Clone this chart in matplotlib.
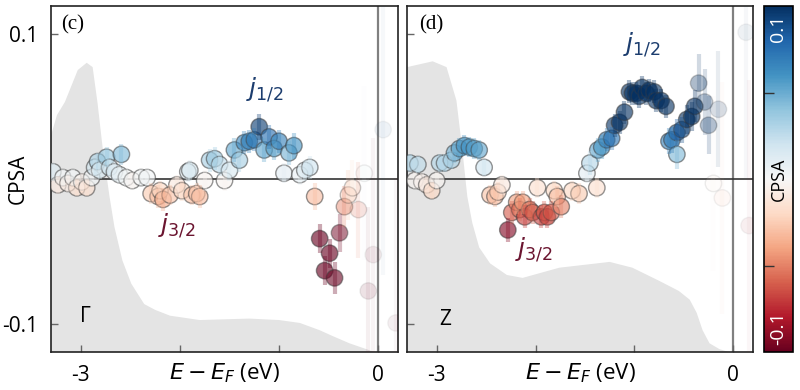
import numpy as np
import matplotlib
matplotlib.use("Agg")
import matplotlib.pyplot as plt
from matplotlib import colors

plt.rcParams['font.family'] = ['Open Sans', 'DejaVu Sans']
plt.rcParams['mathtext.fontset'] = 'dejavusans'

# ---- data: Gamma panel (c) ----
gamma_dos_e = [-3.30, -3.24, -3.16, -3.03, -2.94, -2.88, -2.83, -2.78, -2.71, -2.66, -2.58,
               -2.49, -2.36, -2.25, -2.10, -1.80, -1.30, -1.00, -0.79, -0.59, -0.46, -0.29,
               -0.12, 0.0, 0.20]
gamma_dos = [0.030, 0.044, 0.053, 0.075, 0.080, 0.077, 0.052, 0.022, -0.012, -0.033, -0.056,
             -0.072, -0.086, -0.090, -0.094, -0.097, -0.096, -0.097, -0.099, -0.104, -0.108,
             -0.113, -0.117, -0.120, -0.120]

gamma_e = [-3.28, -3.23, -3.18, -3.13, -3.08, -3.04, -2.99, -2.94, -2.89, -2.86,
           -2.83, -2.81, -2.74, -2.71, -2.66, -2.61, -2.59, -2.54, -2.48, -2.39,
           -2.33, -2.29, -2.22, -2.20, -2.17, -2.10, -2.03, -1.98, -1.92, -1.90,
           -1.88, -1.83, -1.80, -1.75, -1.70, -1.65, -1.60, -1.55, -1.50, -1.45,
           -1.40, -1.35, -1.30, -1.25, -1.20, -1.15, -1.10, -1.05, -1.00, -0.95,
           -0.90, -0.85, -0.79, -0.74, -0.69, -0.64, -0.59, -0.54, -0.49, -0.44,
           -0.39, -0.34, -0.30, -0.26, -0.20, -0.14, -0.10, -0.05, 0.05, 0.18]
gamma_c = [0.005, -0.004, 0.001, -0.003, 0.001, -0.006, -0.002, -0.006, 0.001, 0.008,
           0.012, 0.006, 0.015, 0.008, 0.005, 0.003, 0.017, 0.001, -0.001, 0.001,
           0.001, -0.010, -0.012, -0.008, -0.014, -0.011, -0.004, -0.008, 0.005, 0.006,
           -0.011, -0.010, -0.012, -0.001, 0.013, 0.014, 0.010, -0.001, 0.006, 0.020,
           0.013, 0.025, 0.026, 0.027, 0.036, 0.020, 0.029, 0.021, 0.026, 0.004,
           0.018, 0.023, 0.003, 0.006, 0.008, -0.012, -0.041, -0.063, -0.051, -0.068,
           -0.037, -0.019, -0.011, -0.006, -0.021, 0.004, -0.077, -0.052, 0.034, -0.099]
gamma_err = [0.006, 0.006, 0.006, 0.006, 0.006, 0.006, 0.006, 0.006, 0.006, 0.006,
             0.006, 0.006, 0.007, 0.006, 0.006, 0.006, 0.007, 0.006, 0.006, 0.006,
             0.006, 0.007, 0.008, 0.007, 0.008, 0.007, 0.007, 0.007, 0.007, 0.007,
             0.007, 0.007, 0.008, 0.007, 0.008, 0.008, 0.008, 0.007, 0.007, 0.008,
             0.008, 0.008, 0.008, 0.008, 0.009, 0.008, 0.008, 0.008, 0.008, 0.007,
             0.008, 0.009, 0.007, 0.007, 0.008, 0.009, 0.010, 0.010, 0.010, 0.011,
             0.013, 0.014, 0.017, 0.019, 0.033, 0.060, 0.058, 0.080, 0.100, 0.100]

# ---- data: Z panel (d) ----
z_dos_e = [-3.30, -3.04, -2.90, -2.80, -2.74, -2.69, -2.64, -2.57, -2.46, -2.29, -2.13,
           -1.76, -1.25, -1.02, -0.75, -0.55, -0.44, -0.37, -0.31, -0.24, -0.14, 0.0, 0.20]
z_dos = [0.077, 0.081, 0.077, 0.054, 0.020, -0.012, -0.030, -0.047, -0.058, -0.066, -0.068,
         -0.061, -0.057, -0.061, -0.070, -0.077, -0.083, -0.092, -0.104, -0.113, -0.117,
         -0.120, -0.120]

z_e = [-3.27, -3.22, -3.19, -3.15, -3.10, -3.05, -3.00, -2.97, -2.92, -2.85,
       -2.82, -2.77, -2.72, -2.67, -2.62, -2.57, -2.52, -2.46, -2.41, -2.38,
       -2.34, -2.28, -2.24, -2.19, -2.16, -2.13, -2.11, -2.06, -2.03, -1.98,
       -1.94, -1.91, -1.88, -1.84, -1.81, -1.78, -1.74, -1.63, -1.56, -1.48,
       -1.45, -1.38, -1.37, -1.33, -1.28, -1.23, -1.20, -1.15, -1.10, -1.05,
       -1.02, -0.98, -0.95, -0.92, -0.88, -0.85, -0.80, -0.78, -0.73, -0.68,
       -0.65, -0.62, -0.57, -0.57, -0.52, -0.47, -0.42, -0.39, -0.35, -0.29,
       -0.25, -0.20, -0.15, -0.11, 0.13, 0.16]
z_c = [0.011, -0.001, 0.010, -0.002, -0.004, -0.008, -0.001, 0.011, 0.011, 0.013,
       0.018, 0.021, 0.023, 0.022, 0.021, 0.020, 0.008, -0.011, -0.012, -0.009,
       -0.004, -0.035, -0.023, -0.016, -0.021, -0.016, -0.026, -0.021, -0.023, -0.006,
       -0.026, -0.023, -0.026, -0.023, -0.008, -0.012, -0.019, -0.008, -0.010, 0.004,
       0.011, -0.006, 0.020, 0.022, 0.027, 0.028, 0.037, 0.039, 0.046, 0.060,
       0.059, 0.059, 0.057, 0.063, 0.059, 0.061, 0.060, 0.054, 0.054, 0.050,
       0.026, 0.027, 0.017, 0.032, 0.034, 0.041, 0.043, 0.050, 0.066, 0.053,
       0.037, -0.003, 0.048, -0.013, 0.101, -0.032]
z_err = [0.006, 0.006, 0.006, 0.006, 0.006, 0.006, 0.006, 0.006, 0.006, 0.006,
         0.007, 0.007, 0.007, 0.007, 0.007, 0.007, 0.006, 0.007, 0.007, 0.007,
         0.007, 0.008, 0.008, 0.008, 0.008, 0.008, 0.008, 0.008, 0.008, 0.007,
         0.008, 0.008, 0.008, 0.008, 0.007, 0.007, 0.008, 0.007, 0.007, 0.007,
         0.008, 0.007, 0.008, 0.008, 0.008, 0.008, 0.008, 0.008, 0.008, 0.008,
         0.008, 0.008, 0.008, 0.008, 0.008, 0.008, 0.008, 0.008, 0.008, 0.008,
         0.009, 0.009, 0.010, 0.009, 0.009, 0.010, 0.010, 0.011, 0.020, 0.023,
         0.020, 0.060, 0.040, 0.080, 0.100, 0.100]

cmap = plt.get_cmap('RdBu')
norm_pts = colors.Normalize(-0.038, 0.038)
norm_bar = colors.Normalize(-0.1, 0.1)


def panel(ax, dos_e, dos_v, e, c, err):
    e = np.asarray(e)
    c = np.asarray(c)
    err = np.asarray(err)
    ax.fill_between(dos_e, dos_v, -1, color='#e4e4e4', lw=0, zorder=0)
    ax.axvline(0, color='#808080', lw=1.6, zorder=1)
    ax.axhline(0, color='#333333', lw=1.2, zorder=1)
    alpha = np.clip(0.0065 / err, 0.05, 0.62)
    face = cmap(norm_pts(c))
    bar = face.copy()
    face[:, 3] = alpha
    bar[:, 3] = alpha * 0.55
    edge = np.zeros_like(face)
    edge[:, :3] = 0.25
    edge[:, 3] = alpha * 0.9
    ax.scatter(e, c, s=140, c=face, edgecolors=edge, linewidths=1.0, zorder=3)
    ax.vlines(e, c - err, c + err, colors=bar, lw=3.0, zorder=4)

    ax.set_xlim(-3.30, 0.20)
    ax.set_ylim(-0.119, 0.119)
    ax.set_xticks([-3, -2, -1, 0])
    ax.set_xticklabels(['-3', '', '', '0'])
    ax.set_yticks([-0.1, 0.1])
    ax.tick_params(direction='in', length=5, width=1, color='#666666',
                   labelsize=15, pad=9)
    for s in ax.spines.values():
        s.set_linewidth(1.2)
        s.set_color('#222222')
    ax.text(0.5, -0.06, r'$E - E_F$ (eV)', transform=ax.transAxes,
            ha='center', va='center', fontsize=16)


fig = plt.figure(figsize=(8, 3.9), dpi=100)
ax1 = fig.add_axes([0.06375, 0.0974, 0.43375, 0.887])
ax2 = fig.add_axes([0.50875, 0.0974, 0.4325, 0.887])
cax = fig.add_axes([0.955, 0.0974, 0.03625, 0.887])

panel(ax1, gamma_dos_e, gamma_dos, gamma_e, gamma_c, gamma_err)
panel(ax2, z_dos_e, z_dos, z_e, z_c, z_err)

ax1.set_yticklabels(['-0.1', '0.1'])
ax2.set_yticklabels(['', ''])
ax1.text(-0.095, 0.5, 'CPSA', transform=ax1.transAxes, rotation=90,
         ha='center', va='center', fontsize=15)

ax1.text(0.063, 0.945, '(c)', transform=ax1.transAxes, ha='center', va='center',
         fontsize=15, family='Liberation Serif')
ax2.text(0.069, 0.945, '(d)', transform=ax2.transAxes, ha='center', va='center',
         fontsize=15, family='Liberation Serif')
ax1.text(0.10, 0.104, 'Γ', transform=ax1.transAxes, ha='center', va='center', fontsize=15)
ax2.text(0.11, 0.094, 'Z', transform=ax2.transAxes, ha='center', va='center', fontsize=15)

navy = '#1c3d6e'
maroon = '#6b1530'
ax1.text(-1.14, 0.061, r'$j_{1/2}$', ha='center', va='center', fontsize=18, color=navy)
ax1.text(-2.03, -0.032, r'$j_{3/2}$', ha='center', va='center', fontsize=18, color=maroon)
ax2.text(-0.92, 0.092, r'$j_{1/2}$', ha='center', va='center', fontsize=18, color=navy)
ax2.text(-2.02, -0.049, r'$j_{3/2}$', ha='center', va='center', fontsize=18, color=maroon)

sm = plt.cm.ScalarMappable(norm=norm_bar, cmap=cmap)
cb = fig.colorbar(sm, cax=cax, ticks=[-0.05, 0.05])
cb.outline.set_linewidth(1.2)
cax.yaxis.set_ticks_position('left')
cax.tick_params(direction='in', length=7, width=1, color='#333333', labelleft=False)
cax.text(0.48, 0.936, '0.1', transform=cax.transAxes, rotation=90, color='white',
         ha='center', va='center', fontsize=14)
cax.text(0.48, 0.07, '-0.1', transform=cax.transAxes, rotation=90, color='white',
         ha='center', va='center', fontsize=14)
cax.text(0.5, 0.5, 'CPSA', transform=cax.transAxes, rotation=90, color='black',
         ha='center', va='center', fontsize=13)

fig.savefig('out.png', dpi=100)
